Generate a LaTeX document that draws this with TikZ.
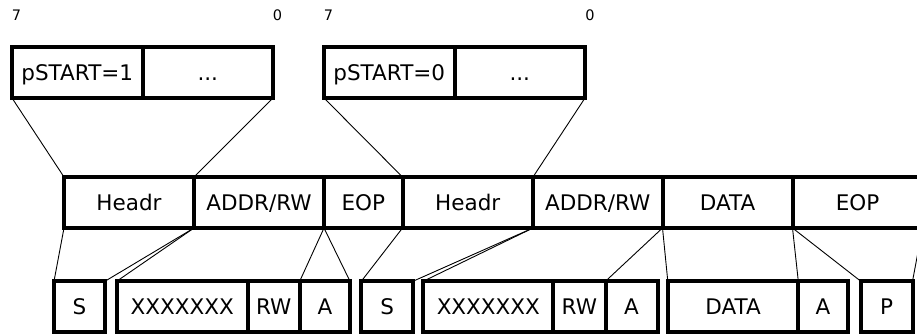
\documentclass[tikz,border=0pt]{standalone}
\usepackage{fontspec}
\setmainfont{DejaVu Sans}
\begin{document}
\begin{tikzpicture}[x=1pt,y=-1pt,
  cell/.style={draw, line width=4pt, rectangle, inner sep=0pt, outer sep=0pt,
    minimum height=51pt, font=\fontsize{21.5}{26}\selectfont,
    text height=15.7pt, text depth=0pt},
  bit/.style={inner sep=0pt, font=\fontsize{14.5}{17}\selectfont,
    text height=10.6pt, text depth=0pt},
  link/.style={line width=0.9pt}]
\useasboundingbox (0,0) rectangle (917,336);
% bit labels
\node[bit] (l7a) at (16.5,15.5) {7};
\node[bit] (l0a) at (277.5,15.5) {0};
\node[bit] (l7b) at (328.5,15.5) {7};
\node[bit] (l0b) at (590,15.5) {0};
% top row
\node[cell, minimum width=130.5pt] (t1a) at (77.25,72.5) {pSTART=1};
\node[cell, minimum width=130.5pt] (t1b) at (207.75,72.5) {...};
\node[cell, minimum width=130.5pt] (t2a) at (389.25,72.5) {pSTART=0};
\node[cell, minimum width=130.5pt] (t2b) at (519.75,72.5) {...};
% middle row
\node[cell, minimum width=130pt] (m1) at (129,202.5) {Headr};
\node[cell, minimum width=130pt] (m2) at (259,202.5) {ADDR/RW};
\node[cell, minimum width=78.5pt] (m3) at (363.25,202.5) {EOP};
\node[cell, minimum width=130.5pt] (m4) at (467.75,202.5) {Headr};
\node[cell, minimum width=129.5pt] (m5) at (597.75,202.5) {ADDR/RW};
\node[cell, minimum width=130pt] (m6) at (727.5,202.5) {DATA};
\node[cell, minimum width=130pt] (m7) at (857.5,202.5) {EOP};
% bottom row
\begin{scope}[every node/.append style={minimum height=51.5pt}]
\node[cell, minimum width=51pt] (b1) at (79.5,306.75) {S};
\node[cell, minimum width=131pt] (b2) at (182.2,306.75) {XXXXXXX};
\node[cell, minimum width=52pt] (b3) at (273.7,306.75) {RW};
\node[cell, minimum width=50.3pt] (b4) at (324.85,306.75) {A};
\node[cell, minimum width=51.7pt] (b5) at (387.15,306.75) {S};
\node[cell, minimum width=130pt] (b6) at (488.3,306.75) {XXXXXXX};
\node[cell, minimum width=52.2pt] (b7) at (579.4,306.75) {RW};
\node[cell, minimum width=52pt] (b8) at (631.5,306.75) {A};
\node[cell, minimum width=130.5pt] (b9) at (733.05,306.75) {DATA};
\node[cell, minimum width=49.2pt] (b10) at (822.9,306.75) {A};
\node[cell, minimum width=51.7pt] (b11) at (886.65,306.75) {P};
\end{scope}
% connectors top -> middle
\draw[link] (t1a.south west) -- (m1.north west);
\draw[link] (t1b.south east) -- (m1.north east);
\draw[link] (t2a.south west) -- (m4.north west);
\draw[link] (t2b.south east) -- (m4.north east);
% connectors middle -> bottom
\draw[link] (m1.south west) -- (b1.north west);
\draw[link] (m2.south west) -- (b1.north east);
\draw[link] (m2.south west) -- (b2.north west);
\draw[link] (m3.south west) -- (b4.north west);
\draw[link] (m3.south west) -- (b4.north east);
\draw[link] (m4.south west) -- (b5.north west);
\draw[link] (m5.south west) -- (b5.north east);
\draw[link] (m5.south west) -- (b6.north west);
\draw[link] (m6.south west) -- (b8.north west);
\draw[link] (m6.south west) -- (b9.north west);
\draw[link] (m7.south west) -- (b10.north west);
\draw[link] (m7.south west) -- (b11.north west);
\draw[link] (m7.south east) -- (b11.north east);
\end{tikzpicture}
\end{document}
